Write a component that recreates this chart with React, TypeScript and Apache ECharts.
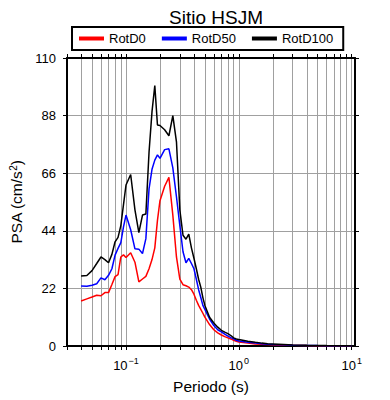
import React, { useEffect, useRef } from "react";
import * as echarts from "echarts";

const periods = [
  0.04, 0.045, 0.05, 0.055, 0.06, 0.065, 0.07, 0.075, 0.08, 0.085, 0.09, 0.095,
  0.1, 0.11, 0.12, 0.13, 0.14, 0.15, 0.16, 0.17, 0.18, 0.19, 0.2, 0.22, 0.24,
  0.26, 0.28, 0.3, 0.32, 0.34, 0.36, 0.38, 0.4, 0.42, 0.44, 0.46, 0.48, 0.5,
  0.55, 0.6, 0.65, 0.7, 0.75, 0.8, 0.85, 0.9, 0.95, 1.0, 1.2, 1.4, 1.6, 1.8,
  2.0, 2.5, 3.0, 4.0, 5.0, 6.0, 8.0, 10.0,
];

const rotD0 = [
  17.2, 18.0, 18.7, 19.4, 19.2, 20.4, 20.4, 23.5, 26.5, 27.3, 34.0, 34.8,
  33.8, 35.6, 32.0, 24.5, 25.6, 26.6, 29.5, 33.0, 37.5, 48.0, 55.5, 61.0, 64.4,
  50.0, 34.0, 25.5, 23.4, 23.0, 22.5, 21.5, 19.8, 17.5, 15.5, 14.0, 12.5, 11.0,
  8.2, 6.2, 5.0, 4.2, 3.6, 3.1, 2.7, 2.2, 1.8, 1.5, 1.1, 0.8, 0.65, 0.55,
  0.5, 0.35, 0.25, 0.15, 0.12, 0.1, 0.06, 0.05,
];

const rotD50 = [
  22.9, 22.8, 23.2, 23.8, 26.0, 25.3, 27.0, 29.5, 34.7, 37.3, 39.5, 45.5,
  50.0, 44.4, 37.1, 37.0, 35.3, 41.0, 60.0, 67.5, 71.0, 73.0, 71.7, 75.0, 75.3,
  68.0, 57.0, 46.0, 36.0, 31.8, 33.5, 31.5, 29.5, 25.5, 21.5, 18.5, 15.5, 14.0,
  10.3, 7.8, 6.2, 5.4, 4.5, 3.8, 3.2, 2.7, 2.2, 1.9, 1.4, 1.1, 0.9, 0.7,
  0.6, 0.45, 0.3, 0.2, 0.15, 0.12, 0.08, 0.06,
];

const rotD100 = [
  26.7, 26.9, 28.8, 31.5, 34.0, 33.0, 31.8, 35.0, 39.8, 41.5, 46.0, 54.0,
  61.5, 65.5, 52.0, 43.3, 50.0, 50.4, 74.0, 89.5, 99.5, 84.4, 84.2, 82.6, 80.3,
  88.0, 78.0, 52.0, 42.3, 40.8, 42.7, 37.5, 33.5, 29.5, 25.5, 22.5, 18.5, 15.5,
  11.0, 8.8, 7.2, 6.0, 5.3, 4.7, 4.0, 3.1, 2.7, 2.5, 1.8, 1.4, 1.1, 0.9,
  0.8, 0.6, 0.4, 0.25, 0.2, 0.15, 0.1, 0.08,
];

const yTicks = [0, 22, 44, 66, 88, 110];
const decadeExponents = [-1, 0, 1];
const periodMin = 0.03;
const periodMax = 10.7;

const minorGridPeriods: number[] = [];
for (let n = -2; n <= 1; n++) {
  for (let k = 1; k <= 9; k++) {
    const p = k * Math.pow(10, n);
    if (p >= periodMin && p <= periodMax) minorGridPeriods.push(p);
  }
}

const FONT = "'Liberation Sans', Arial, Helvetica, sans-serif";

export default function App() {
  const ref = useRef<HTMLDivElement>(null);

  useEffect(() => {
    if (!ref.current) return;
    const chart = echarts.init(ref.current, null, { renderer: "svg" });
    const lx = (p: number) => Math.log10(p);
    const tickVals = minorGridPeriods.map(lx);
    const mk = (vals: number[]) => periods.map((p, i) => [lx(p), vals[i]]);
    const xMin = lx(periodMin);
    const xMax = lx(periodMax);
    const supFmt = (v: number) => {
      const e = Math.round(v);
      return `{b|10}{s|${e < 0 ? "\u2212" : ""}${Math.abs(e)}}`;
    };

    chart.setOption({
      animation: false,
      backgroundColor: "#fff",
      textStyle: { fontFamily: FONT },
      title: {
        text: "Sitio HSJM",
        left: 211,
        textAlign: "center",
        top: 3,
        textStyle: { fontFamily: FONT, fontSize: 19, fontWeight: "normal", color: "#000" },
      },
      legend: {
        left: 72,
        top: 27,
        padding: [4, 10, 4, 7],
        borderColor: "#000",
        borderWidth: 2,
        borderRadius: 0,
        itemWidth: 25,
        itemHeight: 4,
        itemGap: 16,
        icon: "rect",
        textStyle: { fontFamily: FONT, fontSize: 13, color: "#000", lineHeight: 15 },
        data: ["RotD0", "RotD50", "RotD100"],
      },
      grid: { left: 67, right: 35, top: 58, bottom: 54, containLabel: false },
      xAxis: [
        {
          type: "value",
          position: "bottom",
          min: xMin,
          max: xMax,
          name: "Periodo (s)",
          nameLocation: "middle",
          nameGap: 32,
          nameTextStyle: { fontFamily: FONT, fontSize: 15.5, color: "#000" },
          axisLine: { show: true, onZero: false, lineStyle: { color: "#000", width: 2 } },
          axisTick: { show: true, inside: false, length: 4, customValues: tickVals, lineStyle: { color: "#000", width: 1 } },
          axisLabel: {
            customValues: decadeExponents,
            margin: 10,
            formatter: supFmt,
            rich: {
              b: { fontFamily: FONT, fontSize: 13, color: "#000", lineHeight: 16, verticalAlign: "bottom" },
              s: { fontFamily: FONT, fontSize: 9, color: "#000", lineHeight: 16, verticalAlign: "top", padding: [0, 0, 5, 1] },
            },
          },
          splitLine: { show: true, lineStyle: { color: "#a0a0a0", width: 1 } },
        },
        {
          type: "value",
          position: "top",
          min: xMin,
          max: xMax,
          axisLine: { show: true, onZero: false, lineStyle: { color: "#000", width: 2 } },
          axisTick: { show: true, inside: false, length: 4, customValues: tickVals, lineStyle: { color: "#000", width: 1 } },
          axisLabel: { show: false },
          splitLine: { show: false },
        },
      ],
      yAxis: [
        {
          type: "value",
          position: "left",
          min: 0,
          max: 110,
          interval: 22,
          name: "PSA (cm/s{s|2})",
          nameLocation: "middle",
          nameGap: 38,
          nameRotate: 90,
          nameTextStyle: {
            fontFamily: FONT,
            fontSize: 15.5,
            color: "#000",
            rich: {
              s: { fontFamily: FONT, fontSize: 10, color: "#000", verticalAlign: "top", padding: [0, 0, 6, 0] },
            },
          },
          axisLine: { show: true, onZero: false, lineStyle: { color: "#000", width: 2 } },
          axisTick: { show: true, inside: false, length: 4, lineStyle: { color: "#000", width: 1 } },
          axisLabel: { margin: 11, fontFamily: FONT, fontSize: 13, color: "#000", customValues: yTicks },
          splitLine: { show: true, lineStyle: { color: "#a0a0a0", width: 1 } },
        },
        {
          type: "value",
          position: "right",
          min: 0,
          max: 110,
          interval: 22,
          axisLine: { show: true, onZero: false, lineStyle: { color: "#000", width: 2 } },
          axisTick: { show: true, inside: false, length: 4, lineStyle: { color: "#000", width: 1 } },
          axisLabel: { show: false },
          splitLine: { show: false },
        },
      ],
      series: [
        { name: "RotD0", type: "line", data: mk(rotD0), showSymbol: false, symbol: "none", color: "#ff0000", lineStyle: { color: "#ff0000", width: 1.5 }, z: 3 },
        { name: "RotD50", type: "line", data: mk(rotD50), showSymbol: false, symbol: "none", color: "#0000ff", lineStyle: { color: "#0000ff", width: 1.5 }, z: 4 },
        { name: "RotD100", type: "line", data: mk(rotD100), showSymbol: false, symbol: "none", color: "#000000", lineStyle: { color: "#000000", width: 1.5 }, z: 5 },
      ],
    });
    return () => chart.dispose();
  }, []);

  return <div ref={ref} style={{ width: 390, height: 400, position: "absolute", left: 0, top: 0 }} />;
}
